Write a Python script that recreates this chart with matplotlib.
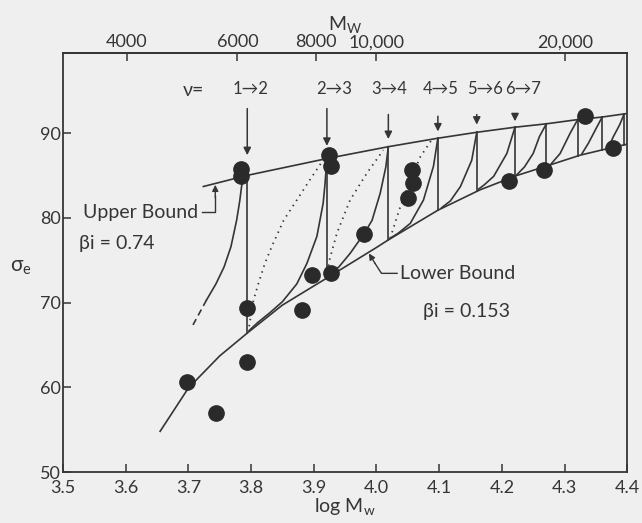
import numpy as np
import matplotlib
matplotlib.use("Agg")
import matplotlib.pyplot as plt

plt.rcParams['font.family'] = ['Lato', 'DejaVu Sans']
plt.rcParams['mathtext.default'] = 'regular'

ink = '#353535'
paper = '#efefef'

# measured points (log Mw, sigma_e)
pt_x = [3.698, 3.744, 3.793, 3.794, 3.784, 3.784, 3.881, 3.897, 3.928, 3.925, 3.927,
        3.980, 4.051, 4.058, 4.056, 4.212, 4.268, 4.332, 4.377]
pt_y = [60.6, 57.0, 63.0, 69.35, 85.8, 84.9, 69.15, 73.3, 73.5, 87.4, 86.1,
        78.1, 82.3, 84.1, 85.6, 84.4, 85.7, 92.0, 88.3]

# bounds
upper_x = [3.724, 3.793, 3.921, 4.019, 4.098, 4.160, 4.221, 4.271, 4.321, 4.360, 4.398]
upper_y = [83.7, 85.0, 87.0, 88.4, 89.4, 90.1, 90.7, 91.1, 91.6, 91.9, 92.3]
lower_x = [3.655, 3.700, 3.750, 3.794, 3.850, 3.921, 4.000, 4.019, 4.098, 4.165,
           4.224, 4.279, 4.325, 4.370, 4.400]
lower_y = [54.8, 59.9, 63.7, 66.4, 69.7, 72.9, 76.5, 77.4, 80.9, 83.3,
           85.0, 86.3, 87.4, 88.2, 88.7]

# transitions nu -> nu+1
trans_x = [3.794, 3.921, 4.019, 4.098, 4.160, 4.221, 4.271, 4.321, 4.360, 4.395]
trans_labels = ['1→2', '2→3', '3→4', '4→5', '5→6', '6→7']
label_x = [3.800, 3.933, 4.021, 4.103, 4.174, 4.234]
arrow_top = [92.9, 92.9, 92.2, 92.0, 92.2, 92.2]
arrow_tip = [87.4, 88.5, 89.3, 90.2, 91.0, 91.4]

# solid branches
c1_x = [3.787, 3.782, 3.777, 3.768, 3.757, 3.744, 3.729]
c1_y = [84.9, 82.0, 79.7, 76.6, 74.2, 72.2, 70.3]
c1_dash_x = [3.729, 3.718, 3.707]
c1_dash_y = [70.3, 68.8, 67.3]
c2_x = [3.921, 3.918, 3.915, 3.905, 3.889, 3.873, 3.850, 3.830, 3.810, 3.797]
c2_y = [87.0, 84.0, 81.7, 77.8, 74.6, 72.2, 70.1, 68.8, 67.6, 66.7]
c3_x = [4.019, 4.015, 4.006, 3.993, 3.980, 3.958, 3.940, 3.928]
c3_y = [88.4, 86.0, 82.9, 79.7, 78.1, 75.8, 74.2, 73.5]
c4_x = [4.098, 4.091, 4.075, 4.054, 4.035, 4.022]
c4_y = [89.4, 86.1, 82.1, 79.35, 78.2, 77.6]
c5_x = [4.160, 4.152, 4.134, 4.118, 4.104]
c5_y = [90.1, 86.8, 83.7, 82.0, 81.2]
c6_x = [4.221, 4.208, 4.187, 4.172, 4.163]
c6_y = [90.7, 87.6, 84.9, 83.9, 83.4]
c7_x = [4.271, 4.260, 4.250, 4.236, 4.224]
c7_y = [91.1, 89.6, 87.6, 86.0, 85.1]
c8_x = [4.321, 4.309, 4.293, 4.279]
c8_y = [91.6, 90.0, 87.6, 86.4]
c9_x = [4.360, 4.350, 4.338, 4.328]
c9_y = [91.9, 90.5, 88.8, 87.6]
c10_x = [4.395, 4.388, 4.378, 4.370]
c10_y = [92.25, 91.0, 89.6, 88.35]

# dotted branches
d2_x = [3.797, 3.804, 3.812, 3.822, 3.833, 3.852, 3.873, 3.894, 3.913]
d2_y = [67.2, 70.3, 72.3, 74.6, 76.6, 79.7, 82.1, 84.5, 86.6]
d3_x = [3.921, 3.925, 3.937, 3.958, 3.985, 4.011]
d3_y = [72.9, 75.0, 78.2, 82.1, 85.3, 88.0]
d4_x = [4.022, 4.038, 4.054, 4.070, 4.088]
d4_y = [77.6, 81.3, 84.45, 87.2, 89.2]

top_ticks = [4000, 6000, 8000, 10000, 20000]
top_labels = ['4000', '6000', '8000', '10,000', '20,000']

fig = plt.figure(figsize=(6.42, 5.23), dpi=100, facecolor=paper)
ax = fig.add_axes([0.098, 0.0975, 0.879, 0.801], facecolor=paper)

lw = 1.2
ax.plot(upper_x, upper_y, color=ink, lw=lw)
ax.plot(lower_x, lower_y, color=ink, lw=lw)

for tx in trans_x:
    ax.plot([tx, tx], [np.interp(tx, lower_x, lower_y), np.interp(tx, upper_x, upper_y)],
            color=ink, lw=lw)

for cx, cy in [(c1_x, c1_y), (c2_x, c2_y), (c3_x, c3_y), (c4_x, c4_y), (c5_x, c5_y),
               (c6_x, c6_y), (c7_x, c7_y), (c8_x, c8_y), (c9_x, c9_y), (c10_x, c10_y)]:
    ax.plot(cx, cy, color=ink, lw=lw)
ax.plot(c1_dash_x, c1_dash_y, color=ink, lw=lw, ls=(0, (4, 2.5)))

for dx, dy in [(d2_x, d2_y), (d3_x, d3_y), (d4_x, d4_y)]:
    ax.plot(dx, dy, color=ink, lw=1.3, ls=(0, (0.8, 2.6)))

ax.plot(pt_x, pt_y, 'o', color='#2a2a2a', ms=11, zorder=5)

# transition arrows and labels
for tx, a0, a1 in zip(trans_x, arrow_top, arrow_tip):
    ax.annotate('', xy=(tx, a1), xytext=(tx, a0),
                arrowprops=dict(arrowstyle='-|>', color=ink, lw=1.1,
                                mutation_scale=11, shrinkA=0, shrinkB=0))
for lx, lab in zip(label_x, trans_labels):
    ax.text(lx, 95.2, lab, ha='center', va='center', fontsize=12, color=ink)
ax.text(3.709, 95.0, 'ν=', ha='center', va='center', fontsize=14, color=ink)

# bound annotations
ax.text(3.532, 80.6, 'Upper Bound', ha='left', va='center', fontsize=14, color=ink)
ax.text(3.525, 77.0, 'βi = 0.74', ha='left', va='center', fontsize=14, color=ink)
ax.plot([3.722, 3.743, 3.743], [80.7, 80.7, 82.6], color=ink, lw=1.0)
ax.annotate('', xy=(3.743, 83.9), xytext=(3.743, 82.4),
            arrowprops=dict(arrowstyle='-|>', color=ink, lw=1.0,
                            mutation_scale=9, shrinkA=0, shrinkB=0))

ax.text(4.038, 73.4, 'Lower Bound', ha='left', va='center', fontsize=14, color=ink)
ax.text(4.075, 68.9, 'βi = 0.153', ha='left', va='center', fontsize=14, color=ink)
ax.plot([4.033, 4.008, 3.998], [73.45, 73.45, 74.6], color=ink, lw=1.0)
ax.annotate('', xy=(3.988, 75.8), xytext=(3.998, 74.6),
            arrowprops=dict(arrowstyle='-|>', color=ink, lw=1.0,
                            mutation_scale=9, shrinkA=0, shrinkB=0))

ax.set_xlim(3.5, 4.4)
ax.set_ylim(50, 99.45)
ax.set_xticks(np.arange(3.5, 4.41, 0.1))
ax.set_xticklabels(['3.5', '3.6', '3.7', '3.8', '3.9', '4.0', '4.1', '4.2', '4.3', '4.4'])
ax.set_yticks([50, 60, 70, 80, 90])
ax.tick_params(axis='both', direction='in', length=6, width=1.1, colors=ink,
               labelsize=13, right=False)
ax.tick_params(axis='x', pad=5.5)
ax.tick_params(axis='y', pad=1.5)
for s in ax.spines.values():
    s.set_color(ink)
    s.set_linewidth(1.3)

ax.set_xlabel('log M$_w$', fontsize=14, color=ink, labelpad=0)
ax.set_ylabel('σ$_e$', fontsize=15, color=ink, rotation=0, va='center', ha='center')
ax.yaxis.set_label_coords(-0.075, 0.49)

sec = ax.secondary_xaxis('top', functions=(lambda x: 10 ** x, np.log10))
sec.set_xticks(top_ticks)
sec.set_xticklabels(top_labels)
sec.tick_params(direction='in', length=6, width=1.1, colors=ink, labelsize=13, pad=2)
sec.spines['top'].set_color(ink)
sec.spines['top'].set_linewidth(1.3)
sec.set_xlabel('M$_W$', fontsize=14, color=ink, labelpad=3)

fig.savefig('out.png', dpi=100, facecolor=paper)
